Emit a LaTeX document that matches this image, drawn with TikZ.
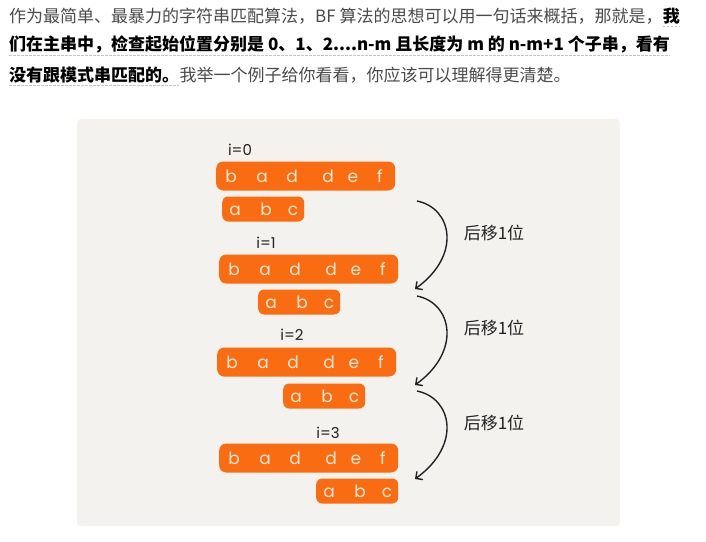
\documentclass[tikz,border=0pt]{standalone}
\usepackage{fontspec}
\newfontfamily\cjk{Noto Sans CJK SC}
\newfontfamily\hand{Poppins}
\usetikzlibrary{positioning, calc, arrows.meta}
\definecolor{panelC}{HTML}{F4F2EE}
\definecolor{barC}{HTML}{F96C12}
\definecolor{letterC}{HTML}{FCE9D6}
\definecolor{proseC}{HTML}{4A4A4A}
\definecolor{ulineC}{HTML}{C4C4C4}
\definecolor{inkC}{HTML}{222222}

\tikzset{
	prosetext/.style={inner sep=0pt, text=proseC, font=\cjk\fontsize{17}{20}\selectfont},
	boldtext/.style={inner sep=0pt, text=black, font=\cjk\bfseries\fontsize{17}{20}\selectfont},
	uline/.style={ulineC, line width=0.7pt, dash pattern=on 2.5pt off 1.5pt},
	textbar/.style={fill=barC, rounded corners=7pt, minimum width=179pt, minimum height=29pt, inner sep=0pt, anchor=west},
	patbar/.style={fill=barC, rounded corners=6pt, minimum width=82pt, minimum height=25pt, inner sep=0pt, anchor=west},
	letter/.style={text=letterC, inner sep=0pt, anchor=base, font=\hand\fontsize{17}{19}\selectfont},
	idx/.style={text=inkC, inner sep=0pt, font=\hand\fontsize{15}{17}\selectfont},
	shiftlabel/.style={text=inkC, inner sep=0pt, font=\cjk\fontsize{17}{20}\selectfont},
	movearrow/.style={inkC, line width=1.4pt, -{Straight Barb[length=5pt, width=10pt]}}
}

\begin{document}
\begin{tikzpicture}[x = 1pt, y = -1pt]
	\useasboundingbox (0,0) rectangle (706,541);

	% text above the figure
	\node [prosetext, anchor = west] (l1a) at (9,16) {作为最简单、最暴力的字符串匹配算法，BF 算法的思想可以用一句话来概括，那就是，};
	\node [boldtext, right = 0pt of l1a] (l1b) {我};
	\node [boldtext, anchor = west] (l2) at (9,44) {们在主串中，检查起始位置分别是 0、1、2....n-m 且长度为 m 的 n-m+1 个子串，看有};
	\node [boldtext, anchor = west] (l3a) at (9,75) {没有跟模式串匹配的。};
	\node [prosetext, right = 0pt of l3a] (l3b) {我举一个例子给你看看，你应该可以理解得更清楚。};

	\draw [uline] ($(l1b.south west)+(0,2)$) -- ($(l1b.south east)+(0,2)$);
	\draw [uline] ($(l2.south west)+(0,2)$) -- ($(l2.south east)+(0,2)$);
	\draw [uline] ($(l3a.south west)+(0,2)$) -- ($(l3a.south east)+(0,2)$);

	% panel
	\fill [panelC, rounded corners = 4pt] (77,119) rectangle (620,526);

	% main string and pattern for each start position
	\foreach \r/\tx/\ty/\px/\py/\ix/\iy in {0/216/176/222/209/240/150, 1/219/269/258/302/266/243, 2/217/362/283/396/292/335, 3/219/458/316/491/328/433} {
		\node [textbar] (t\r) at (\tx,\ty) {};
		\foreach \c/\dx [count = \n] in {b/15, a/46, d/76, d/112, e/137, f/164}
			\node [letter] (t\r-\n) at ($(t\r.west)+(\dx,6)$) {\c};
		\node [patbar] (p\r) at (\px,\py) {};
		\foreach \c/\dx [count = \n] in {a/13, b/44, c/71}
			\node [letter] (p\r-\n) at ($(p\r.west)+(\dx,6)$) {\c};
		\node [idx] (i\r) at (\ix,\iy) {i=\r};
	}

	% shift arrows
	\foreach \k/\sy/\ey/\ly in {1/201/289/233, 2/296/385/328, 3/391/479/423} {
		\coordinate (a\k-s) at (417,\sy);
		\coordinate (a\k-e) at (415,\ey);
		\node [shiftlabel] (s\k) at (494,\ly) {后移1位};
		\draw [movearrow] (a\k-s) .. controls +(35,7) and +(47,-34) .. (a\k-e);
	}
\end{tikzpicture}
\end{document}
